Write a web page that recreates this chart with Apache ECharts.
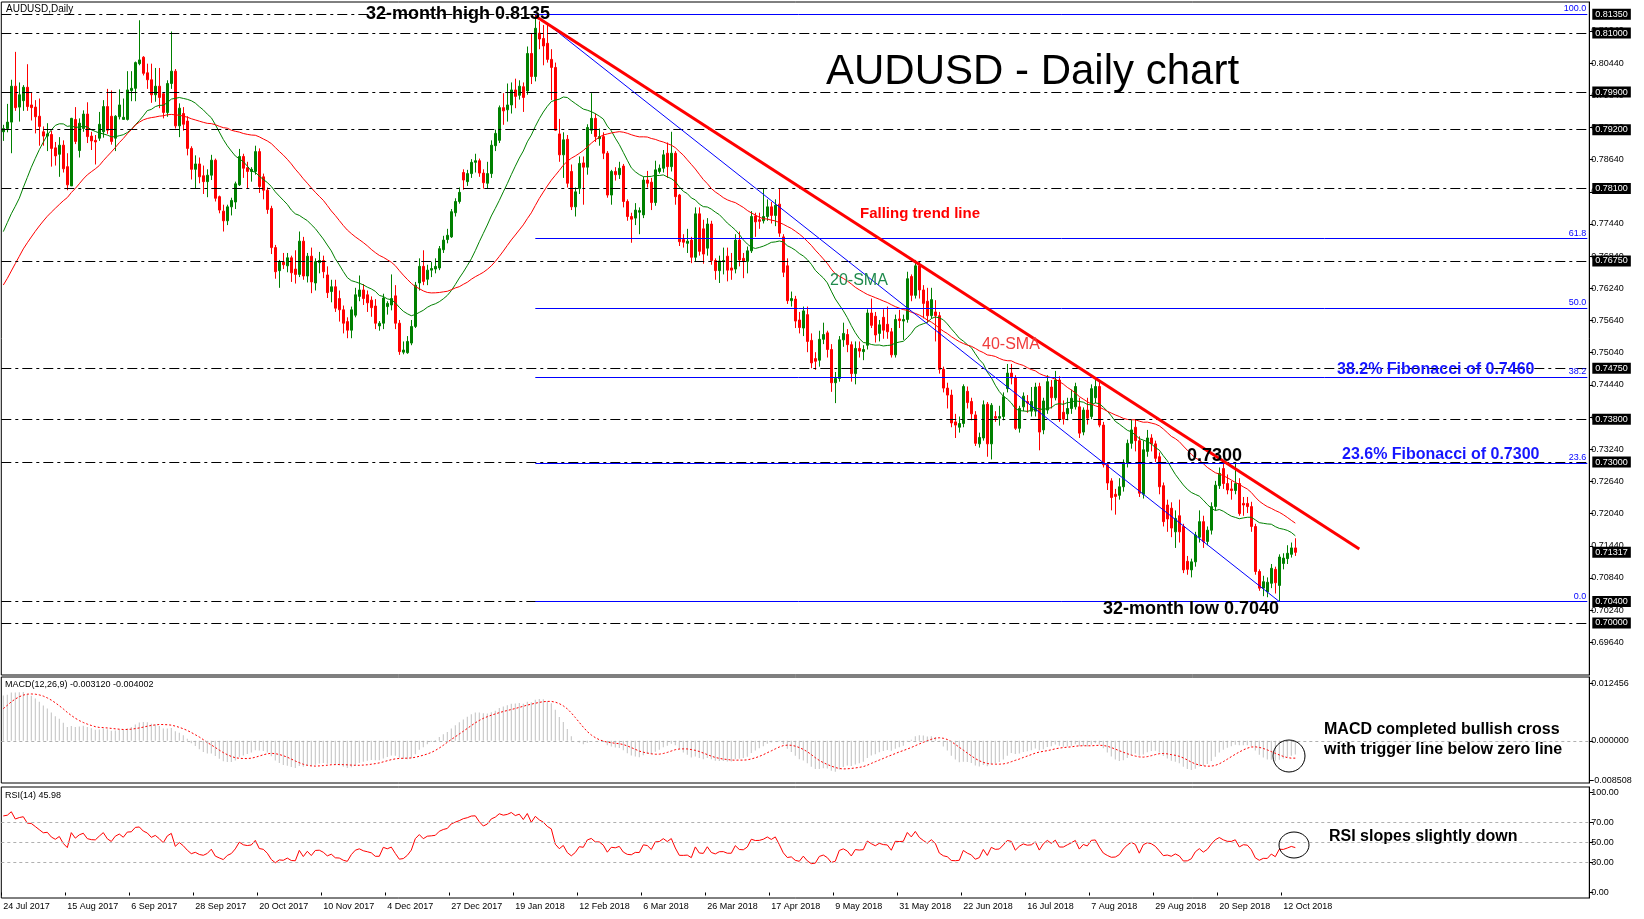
<!DOCTYPE html>
<html>
<head>
<meta charset="utf-8">
<title>AUDUSD - Daily chart</title>
<script src="https://cdn.jsdelivr.net/npm/echarts@6/dist/echarts.min.js"></script>
<style>
  html, body { margin: 0; padding: 0; background: #fff; }
  #chart { width: 1644px; height: 919px; }
</style>
</head>
<body>
<div id="chart"></div>
<script>
// closes before the first visible bar, only used to warm up the SMA / MACD / RSI
const priorClose = [
  0.7450, 0.7440, 0.7445, 0.7410, 0.7440, 0.7450, 0.7505, 0.7530, 0.7520, 0.7530,
  0.7535, 0.7560, 0.7580, 0.7580, 0.7605, 0.7570, 0.7580, 0.7570, 0.7590, 0.7580,
  0.7590, 0.7600, 0.7670, 0.7680, 0.7685, 0.7600, 0.7590, 0.7580, 0.7610, 0.7605,
  0.7630, 0.7640, 0.7700, 0.7700, 0.7830, 0.7850, 0.7910, 0.7920, 0.7960, 0.7915
];

// daily bars from 24 Jul 2017: [open, close, low, high]
const candles = [
  [0.7916,0.7922,0.7899,0.7929],[0.7922,0.7934,0.7915,0.7968],[0.7934,0.8001,0.7876,0.8013],[0.8001,0.7961,0.7955,0.8065],
  [0.7962,0.7985,0.7935,0.8008],[0.7974,0.7999,0.7955,0.8003],[0.7999,0.7963,0.7955,0.8042],[0.7966,0.7961,0.7937,0.7990],
  [0.7962,0.7944,0.7913,0.7975],[0.7945,0.7926,0.7890,0.7978],[0.7916,0.7908,0.7890,0.7926],[0.7908,0.7912,0.7880,0.7932],
  [0.7911,0.7885,0.7851,0.7918],[0.7886,0.7871,0.7853,0.7897],[0.7874,0.7891,0.7832,0.7906],[0.7891,0.7847,0.7840,0.7900],
  [0.7851,0.7817,0.7807,0.7876],[0.7815,0.7941,0.7815,0.7942],[0.7939,0.7898,0.7893,0.7962],[0.7881,0.7932,0.7868,0.7941],
  [0.7922,0.7949,0.7916,0.7956],[0.7949,0.7907,0.7895,0.7971],[0.7908,0.7899,0.7882,0.7916],[0.7900,0.7897,0.7855,0.7910],
  [0.7904,0.7930,0.7899,0.7953],[0.7916,0.7963,0.7905,0.7975],[0.7963,0.7919,0.7912,0.7996],[0.7945,0.7898,0.7892,0.7993],
  [0.7904,0.7945,0.7880,0.7947],[0.7944,0.7966,0.7939,0.7995],[0.7939,0.7943,0.7939,0.7978],[0.7939,0.7994,0.7937,0.8029],
  [0.7993,0.7997,0.7973,0.8029],[0.7997,0.8045,0.7973,0.8047],[0.8043,0.8050,0.8040,0.8124],[0.8055,0.8025,0.8021,0.8057],
  [0.8026,0.8013,0.7996,0.8043],[0.8013,0.7985,0.7970,0.8043],[0.7985,0.8001,0.7972,0.8035],[0.8001,0.7980,0.7960,0.8035],
  [0.7987,0.7952,0.7941,0.7990],[0.7952,0.8006,0.7944,0.8012],[0.8006,0.8029,0.7996,0.8103],[0.8029,0.7927,0.7922,0.8033],
  [0.7927,0.7960,0.7906,0.7969],[0.7950,0.7930,0.7918,0.7962],[0.7936,0.7885,0.7872,0.7945],[0.7885,0.7846,0.7827,0.7889],
  [0.7846,0.7856,0.7810,0.7872],[0.7856,0.7832,0.7820,0.7868],[0.7834,0.7823,0.7800,0.7853],[0.7823,0.7835,0.7794,0.7846],
  [0.7835,0.7863,0.7826,0.7873],[0.7863,0.7792,0.7786,0.7866],[0.7795,0.7770,0.7764,0.7797],[0.7768,0.7750,0.7730,0.7780],
  [0.7750,0.7776,0.7742,0.7780],[0.7776,0.7788,0.7760,0.7793],[0.7785,0.7819,0.7772,0.7823],[0.7817,0.7870,0.7815,0.7884],
  [0.7870,0.7848,0.7830,0.7875],[0.7849,0.7842,0.7810,0.7860],[0.7842,0.7846,0.7823,0.7850],[0.7842,0.7879,0.7836,0.7890],
  [0.7879,0.7814,0.7802,0.7885],[0.7832,0.7807,0.7790,0.7838],[0.7807,0.7771,0.7763,0.7812],[0.7773,0.7700,0.7688,0.7778],
  [0.7700,0.7655,0.7642,0.7705],[0.7657,0.7673,0.7625,0.7677],[0.7673,0.7668,0.7660,0.7690],[0.7666,0.7681,0.7654,0.7690],
  [0.7681,0.7653,0.7636,0.7685],[0.7660,0.7650,0.7633,0.7695],[0.7650,0.7712,0.7645,0.7730],[0.7712,0.7647,0.7640,0.7720],
  [0.7647,0.7684,0.7635,0.7690],[0.7684,0.7636,0.7615,0.7700],[0.7634,0.7674,0.7620,0.7680],[0.7672,0.7676,0.7652,0.7692],
  [0.7676,0.7655,0.7643,0.7685],[0.7649,0.7616,0.7606,0.7665],[0.7618,0.7627,0.7598,0.7640],[0.7627,0.7587,0.7580,0.7640],
  [0.7605,0.7584,0.7562,0.7620],[0.7584,0.7559,0.7540,0.7592],[0.7562,0.7546,0.7531,0.7570],[0.7546,0.7584,0.7531,0.7590],
  [0.7574,0.7612,0.7570,0.7625],[0.7609,0.7621,0.7600,0.7648],[0.7621,0.7605,0.7593,0.7632],[0.7612,0.7597,0.7580,0.7620],
  [0.7602,0.7588,0.7571,0.7609],[0.7591,0.7559,0.7548,0.7604],[0.7554,0.7559,0.7545,0.7563],[0.7559,0.7606,0.7548,0.7614],
  [0.7590,0.7596,0.7575,0.7600],[0.7593,0.7605,0.7583,0.7650],[0.7610,0.7559,0.7548,0.7630],[0.7559,0.7506,0.7500,0.7565],
  [0.7505,0.7509,0.7501,0.7525],[0.7504,0.7525,0.7502,0.7535],[0.7522,0.7553,0.7518,0.7565],[0.7553,0.7630,0.7550,0.7636],
  [0.7634,0.7665,0.7620,0.7680],[0.7665,0.7637,0.7630,0.7695],[0.7641,0.7658,0.7630,0.7668],[0.7658,0.7661,0.7645,0.7673],
  [0.7660,0.7665,0.7652,0.7680],[0.7662,0.7698,0.7658,0.7703],[0.7696,0.7714,0.7690,0.7722],[0.7715,0.7723,0.7708,0.7735],
  [0.7720,0.7767,0.7718,0.7772],[0.7765,0.7786,0.7758,0.7792],[0.7786,0.7803,0.7782,0.7812],[0.7840,0.7826,0.7808,0.7846],
  [0.7823,0.7838,0.7815,0.7845],[0.7838,0.7859,0.7830,0.7865],[0.7859,0.7862,0.7840,0.7875],[0.7862,0.7839,0.7832,0.7866],
  [0.7839,0.7821,0.7810,0.7846],[0.7820,0.7838,0.7811,0.7860],[0.7838,0.7891,0.7830,0.7900],[0.7890,0.7913,0.7880,0.7920],
  [0.7900,0.7961,0.7895,0.7965],[0.7961,0.7955,0.7929,0.7988],[0.7957,0.7966,0.7935,0.8006],[0.7966,0.7994,0.7950,0.8008],
  [0.7994,0.7982,0.7960,0.8015],[0.7984,0.8001,0.7976,0.8012],[0.8000,0.7980,0.7953,0.8008],[0.7992,0.8062,0.7985,0.8075],
  [0.8062,0.8019,0.8005,0.8100],[0.8019,0.8109,0.8010,0.8135],[0.8100,0.8089,0.8070,0.8122],[0.8090,0.8076,0.8040,0.8115],
  [0.8081,0.8051,0.8045,0.8118],[0.8051,0.8036,0.7975,0.8070],[0.8036,0.7919,0.7918,0.8045],[0.7912,0.7873,0.7860,0.7940],
  [0.7873,0.7901,0.7830,0.7915],[0.7902,0.7820,0.7812,0.7910],[0.7842,0.7776,0.7770,0.7855],[0.7776,0.7804,0.7758,0.7812],
  [0.7810,0.7857,0.7800,0.7870],[0.7858,0.7850,0.7780,0.7870],[0.7850,0.7924,0.7836,0.7930],[0.7919,0.7941,0.7912,0.7988],
  [0.7941,0.7907,0.7897,0.7950],[0.7903,0.7907,0.7890,0.7922],[0.7907,0.7876,0.7865,0.7915],[0.7876,0.7798,0.7793,0.7880],
  [0.7798,0.7842,0.7780,0.7845],[0.7842,0.7836,0.7825,0.7850],[0.7836,0.7848,0.7828,0.7860],[0.7852,0.7786,0.7775,0.7856],
  [0.7786,0.7758,0.7750,0.7790],[0.7758,0.7753,0.7709,0.7765],[0.7755,0.7770,0.7742,0.7783],[0.7766,0.7769,0.7725,0.7775],
  [0.7761,0.7826,0.7755,0.7832],[0.7826,0.7820,0.7812,0.7843],[0.7822,0.7784,0.7770,0.7830],[0.7784,0.7845,0.7778,0.7862],
  [0.7842,0.7848,0.7838,0.7855],[0.7848,0.7873,0.7840,0.7882],[0.7876,0.7851,0.7830,0.7896],[0.7851,0.7876,0.7842,0.7916],
  [0.7876,0.7795,0.7780,0.7880],[0.7798,0.7711,0.7703,0.7800],[0.7715,0.7710,0.7700,0.7725],[0.7708,0.7712,0.7690,0.7735],
  [0.7714,0.7682,0.7671,0.7720],[0.7682,0.7763,0.7675,0.7775],[0.7763,0.7693,0.7685,0.7775],[0.7735,0.7688,0.7670,0.7752],
  [0.7699,0.7744,0.7685,0.7755],[0.7744,0.7676,0.7668,0.7750],[0.7676,0.7657,0.7640,0.7680],[0.7657,0.7675,0.7634,0.7685],
  [0.7674,0.7676,0.7650,0.7700],[0.7684,0.7658,0.7637,0.7700],[0.7662,0.7658,0.7640,0.7690],[0.7660,0.7714,0.7652,0.7725],
  [0.7714,0.7677,0.7665,0.7730],[0.7680,0.7674,0.7643,0.7690],[0.7674,0.7694,0.7652,0.7702],[0.7694,0.7758,0.7690,0.7768],
  [0.7759,0.7748,0.7720,0.7765],[0.7752,0.7749,0.7735,0.7765],[0.7750,0.7758,0.7745,0.7810],[0.7758,0.7776,0.7750,0.7790],
  [0.7776,0.7760,0.7745,0.7785],[0.7760,0.7779,0.7740,0.7790],[0.7781,0.7727,0.7720,0.7810],[0.7720,0.7654,0.7645,0.7725],
  [0.7666,0.7601,0.7595,0.7680],[0.7601,0.7605,0.7590,0.7618],[0.7604,0.7563,0.7550,0.7610],[0.7565,0.7551,0.7540,0.7580],
  [0.7550,0.7582,0.7535,0.7590],[0.7575,0.7525,0.7505,0.7590],[0.7527,0.7485,0.7475,0.7540],[0.7493,0.7488,0.7472,0.7505],
  [0.7490,0.7529,0.7478,0.7545],[0.7529,0.7538,0.7520,0.7560],[0.7541,0.7510,0.7495,0.7545],[0.7510,0.7448,0.7431,0.7520],
  [0.7448,0.7456,0.7410,0.7468],[0.7456,0.7528,0.7450,0.7535],[0.7528,0.7540,0.7515,0.7560],[0.7538,0.7519,0.7505,0.7548],
  [0.7519,0.7465,0.7450,0.7525],[0.7465,0.7512,0.7445,0.7525],[0.7512,0.7507,0.7495,0.7525],[0.7506,0.7510,0.7490,0.7518],
  [0.7518,0.7578,0.7510,0.7585],[0.7578,0.7555,0.7550,0.7605],[0.7572,0.7537,0.7523,0.7580],[0.7540,0.7556,0.7525,0.7565],
  [0.7570,0.7546,0.7530,0.7585],[0.7557,0.7543,0.7530,0.7590],[0.7543,0.7500,0.7495,0.7550],[0.7500,0.7566,0.7495,0.7575],
  [0.7567,0.7564,0.7550,0.7584],[0.7563,0.7566,0.7528,0.7575],[0.7566,0.7642,0.7560,0.7655],[0.7646,0.7611,0.7600,0.7650],
  [0.7611,0.7666,0.7605,0.7677],[0.7666,0.7621,0.7605,0.7675],[0.7621,0.7596,0.7568,0.7630],[0.7600,0.7573,0.7560,0.7625],
  [0.7573,0.7603,0.7568,0.7625],[0.7580,0.7573,0.7525,0.7602],[0.7573,0.7473,0.7465,0.7580],[0.7473,0.7438,0.7430,0.7478],
  [0.7438,0.7425,0.7400,0.7448],[0.7425,0.7373,0.7365,0.7435],[0.7375,0.7369,0.7345,0.7390],[0.7365,0.7372,0.7355,0.7385],
  [0.7372,0.7441,0.7365,0.7445],[0.7432,0.7411,0.7400,0.7441],[0.7413,0.7390,0.7378,0.7420],[0.7388,0.7335,0.7330,0.7395],
  [0.7334,0.7346,0.7327,0.7355],[0.7345,0.7407,0.7340,0.7415],[0.7408,0.7334,0.7310,0.7412],[0.7334,0.7406,0.7305,0.7410],
  [0.7385,0.7382,0.7375,0.7395],[0.7382,0.7385,0.7368,0.7405],[0.7385,0.7422,0.7378,0.7430],[0.7437,0.7466,0.7430,0.7483],
  [0.7466,0.7457,0.7445,0.7483],[0.7457,0.7363,0.7360,0.7462],[0.7363,0.7400,0.7355,0.7405],[0.7403,0.7423,0.7395,0.7430],
  [0.7413,0.7410,0.7392,0.7425],[0.7395,0.7413,0.7385,0.7440],[0.7395,0.7440,0.7385,0.7448],[0.7441,0.7356,0.7322,0.7448],
  [0.7360,0.7414,0.7352,0.7420],[0.7397,0.7450,0.7390,0.7462],[0.7440,0.7420,0.7400,0.7453],[0.7420,0.7453,0.7415,0.7470],
  [0.7453,0.7380,0.7375,0.7460],[0.7393,0.7380,0.7370,0.7415],[0.7390,0.7400,0.7378,0.7420],[0.7400,0.7419,0.7390,0.7435],
  [0.7403,0.7441,0.7398,0.7448],[0.7403,0.7354,0.7345,0.7420],[0.7356,0.7397,0.7350,0.7402],[0.7397,0.7382,0.7370,0.7420],
  [0.7385,0.7437,0.7380,0.7445],[0.7420,0.7441,0.7410,0.7453],[0.7441,0.7369,0.7365,0.7450],[0.7369,0.7295,0.7290,0.7375],
  [0.7295,0.7261,0.7248,0.7300],[0.7265,0.7234,0.7210,0.7270],[0.7240,0.7236,0.7202,0.7250],[0.7238,0.7254,0.7230,0.7270],
  [0.7254,0.7299,0.7245,0.7305],[0.7298,0.7335,0.7290,0.7342],[0.7335,0.7360,0.7325,0.7380],[0.7365,0.7340,0.7320,0.7380],
  [0.7340,0.7242,0.7235,0.7348],[0.7240,0.7323,0.7232,0.7340],[0.7320,0.7345,0.7310,0.7360],[0.7345,0.7334,0.7320,0.7352],
  [0.7334,0.7307,0.7300,0.7340],[0.7310,0.7254,0.7240,0.7318],[0.7256,0.7189,0.7180,0.7262],[0.7220,0.7194,0.7170,0.7230],
  [0.7214,0.7177,0.7160,0.7225],[0.7170,0.7195,0.7140,0.7210],[0.7200,0.7170,0.7150,0.7230],[0.7180,0.7099,0.7093,0.7185],
  [0.7115,0.7100,0.7090,0.7125],[0.7099,0.7114,0.7085,0.7120],[0.7114,0.7164,0.7105,0.7170],[0.7160,0.7189,0.7150,0.7210],
  [0.7189,0.7152,0.7140,0.7200],[0.7152,0.7173,0.7145,0.7180],[0.7173,0.7217,0.7165,0.7225],[0.7217,0.7257,0.7210,0.7265],
  [0.7256,0.7279,0.7250,0.7290],[0.7288,0.7260,0.7250,0.7297],[0.7260,0.7248,0.7240,0.7277],[0.7250,0.7247,0.7230,0.7265],
  [0.7247,0.7260,0.7240,0.7300],[0.7260,0.7204,0.7200,0.7270],[0.7223,0.7220,0.7200,0.7235],[0.7223,0.7217,0.7205,0.7235],
  [0.7217,0.7180,0.7170,0.7226],[0.7180,0.7096,0.7090,0.7185],[0.7096,0.7065,0.7060,0.7100],[0.7065,0.7077,0.7050,0.7088],
  [0.7058,0.7076,0.7048,0.7085],[0.7074,0.7102,0.7065,0.7110],[0.7100,0.7075,0.7055,0.7105],[0.7070,0.7123,0.7040,0.7128],
  [0.7111,0.7121,0.7100,0.7130],[0.7120,0.7130,0.7110,0.7145],[0.7128,0.7140,0.7122,0.7150],[0.7140,0.71317,0.7125,0.7158]
];

const dateTicks = ['24 Jul 2017', '15 Aug 2017', '6 Sep 2017', '28 Sep 2017', '20 Oct 2017', '10 Nov 2017',
  '4 Dec 2017', '27 Dec 2017', '19 Jan 2018', '12 Feb 2018', '6 Mar 2018', '26 Mar 2018', '17 Apr 2018',
  '9 May 2018', '31 May 2018', '22 Jun 2018', '16 Jul 2018', '7 Aug 2018', '29 Aug 2018', '20 Sep 2018', '12 Oct 2018'];
const sundaySessions = ['2017-11-05', '2018-03-11', '2018-03-25'];   // broker DST shifts
const closedDays = ['12-25', '01-01'];
const totalSlots = 397;   // bars + empty space on the right

const levelLines = [0.8135, 0.8100, 0.7990, 0.7920, 0.7810, 0.7675, 0.7475, 0.7380, 0.7300, 0.7040, 0.7000];
const lastPrice = 0.71317;
const priceTicks = [0.6964, 0.7024, 0.7084, 0.7144, 0.7204, 0.7264, 0.7324, 0.7384, 0.7444, 0.7504,
  0.7564, 0.7624, 0.7684, 0.7744, 0.7804, 0.7864, 0.7924, 0.7984, 0.8044, 0.8104];
const fibHigh = 0.8135, fibLow = 0.7040, fibStart = 133;
const fibLevels = [100, 61.8, 50, 38.2, 23.6, 0];
const trendLine = [[133, 0.8132], [339, 0.7138]];
const fibDiagonal = [[133, 0.8135], [319, 0.7040]];
const macdTicks = [0.012456, 0, -0.008508];
const rsiTicks = [0, 30, 50, 70, 100];
const rsiLevels = [30, 50, 70];

// ---- categories (trading days) ----
const MON = ['Jan','Feb','Mar','Apr','May','Jun','Jul','Aug','Sep','Oct','Nov','Dec'];
const dates = [];
let day = new Date(Date.UTC(2017, 6, 24));
while (dates.length < totalSlots) {
  const iso = day.toISOString().slice(0, 10);
  const wd = day.getUTCDay();
  const open = (wd !== 0 && wd !== 6 && closedDays.indexOf(iso.slice(5)) < 0) || sundaySessions.indexOf(iso) >= 0;
  if (open) dates.push(day.getUTCDate() + ' ' + MON[day.getUTCMonth()] + ' ' + day.getUTCFullYear());
  day.setUTCDate(day.getUTCDate() + 1);
}
const showDate = (i) => i < candles.length && dateTicks.indexOf(dates[i]) >= 0;

// ---- indicators ----
const P = priorClose.length;
const allClose = priorClose.concat(candles.map(c => c[1]));
function sma(n) {
  return candles.map((c, i) => {
    let s = 0;
    for (let k = i + P - n + 1; k <= i + P; k++) s += allClose[k];
    return +(s / n).toFixed(5);
  });
}
function ema(src, n) {
  const a = 2 / (n + 1), out = [];
  src.forEach((v, i) => out.push(i === 0 ? v : a * v + (1 - a) * out[i - 1]));
  return out;
}
const e12 = ema(allClose, 12), e26 = ema(allClose, 26);
const macdAll = allClose.map((v, i) => e12[i] - e26[i]);
const signalAll = macdAll.map((v, i) => {
  if (i < 8) return v;
  let s = 0;
  for (let k = i - 8; k <= i; k++) s += macdAll[k];
  return s / 9;
});
const macd = macdAll.slice(P).map(v => +v.toFixed(6));
const signal = signalAll.slice(P).map(v => +v.toFixed(6));

const rsiAll = [];
let ag = 0, al = 0;
for (let i = 1; i < allClose.length; i++) {
  const d = allClose[i] - allClose[i - 1];
  const g = Math.max(d, 0), l = Math.max(-d, 0);
  if (i <= 14) { ag += g / 14; al += l / 14; }
  else { ag = (ag * 13 + g) / 14; al = (al * 13 + l) / 14; }
  rsiAll[i] = al === 0 ? 100 : 100 - 100 / (1 + ag / al);
}
const rsi = rsiAll.slice(P).map(v => +v.toFixed(2));

const sma20 = sma(20), sma40 = sma(40);

// ---- chart ----
const FONT = 'Liberation Sans';
const chart = echarts.init(document.getElementById('chart'), null, { renderer: 'canvas' });

const gridBase = { left: 1.3, width: 1588, show: true, borderColor: '#000', borderWidth: 1, backgroundColor: 'transparent' };
const xBase = (gi, showLabels) => ({
  type: 'category', gridIndex: gi, data: dates, boundaryGap: true,
  axisLine: { show: false },
  axisTick: { show: showLabels, interval: (i) => showDate(i), length: 3, lineStyle: { color: '#000' } },
  axisLabel: {
    show: showLabels, interval: (i) => showDate(i), align: 'left', margin: 4,
    fontSize: 9, fontFamily: FONT, color: '#000'
  },
  splitLine: { show: false }
});
const yBase = (gi, min, max, ticks, digits) => ({
  type: 'value', gridIndex: gi, position: 'right', min: min, max: max,
  splitLine: { show: false },
  axisLine: { show: true, lineStyle: { color: '#000' } },
  axisTick: { show: true, customValues: ticks, length: 4, lineStyle: { color: '#000' } },
  axisLabel: {
    customValues: ticks, formatter: v => v.toFixed(digits), margin: 2,
    fontSize: 9, fontFamily: FONT, color: '#000'
  }
});

const boxLabel = {
  show: true, position: 'end', distance: 3, formatter: p => (+p.value).toFixed(5),
  backgroundColor: '#000', color: '#fff', fontSize: 9, fontFamily: FONT,
  padding: [1, 3, 0, 3], lineHeight: 10, opacity: 1
};

const levelMarks = levelLines.map(v => ({
  yAxis: v,
  lineStyle: { color: '#000', width: 1, type: [10, 4, 3, 4] },
  label: boxLabel
}));
// current bid: label only, the line itself is not drawn
levelMarks.push({ yAxis: lastPrice, lineStyle: { color: 'rgba(0,0,0,0)', width: 1 }, label: boxLabel });

const fibMarks = fibLevels.map(lv => {
  const price = fibLow + (fibHigh - fibLow) * lv / 100;
  return [
    { coord: [fibStart, price], lineStyle: { color: '#0000ff', width: 1, type: 'solid' },
      label: { show: true, position: 'insideEndTop', formatter: lv.toFixed(1), color: '#0000ff',
               fontSize: 9, fontFamily: FONT, distance: 1 } },
    { coord: [totalSlots - 1, price] }
  ];
});
fibMarks.push([
  { coord: fibDiagonal[0], lineStyle: { color: '#0000ff', width: 1, type: 'solid' }, label: { show: false } },
  { coord: fibDiagonal[1] }
]);
fibMarks.push([
  { coord: trendLine[0], lineStyle: { color: '#ff0000', width: 3, type: 'solid' }, label: { show: false } },
  { coord: trendLine[1] }
]);

const txt = (x, y, text, font, fill, extra) => Object.assign({
  type: 'text', x: x, y: y, z: 100, silent: true,
  style: Object.assign({ text: text, font: font, fill: fill, textAlign: 'left', textVerticalAlign: 'middle' }, extra || {})
});
const shadow = { shadowColor: 'rgba(0,0,0,0.35)', shadowBlur: 2, shadowOffsetX: 1, shadowOffsetY: 1 };

const option = {
  animation: false,
  backgroundColor: '#fff',
  grid: [
    Object.assign({ top: 2, height: 673 }, gridBase),
    Object.assign({ top: 677, height: 106 }, gridBase),
    Object.assign({ top: 787, height: 111 }, gridBase)
  ],
  xAxis: [xBase(0, false), xBase(1, false), xBase(2, true)],
  yAxis: [
    yBase(0, 0.69030, 0.81580, priceTicks, 5),
    yBase(1, -0.00913, 0.01382, macdTicks, 6),
    yBase(2, -5.5, 105.6, rsiTicks, 2)
  ],
  series: [
    {
      type: 'candlestick', name: 'AUDUSD', xAxisIndex: 0, yAxisIndex: 0, data: candles,
      barWidth: 2,
      itemStyle: { color: '#008000', color0: '#ff0000', borderColor: '#008000', borderColor0: '#ff0000', borderWidth: 1 },
      markLine: { symbol: ['none', 'none'], silent: true, animation: false, precision: 5, data: levelMarks }
    },
    {
      type: 'line', name: '20-SMA', xAxisIndex: 0, yAxisIndex: 0, data: sma20,
      showSymbol: false, lineStyle: { color: '#008000', width: 1 }, z: 3,
      markLine: { symbol: ['none', 'none'], silent: true, animation: false, precision: 5, data: fibMarks }
    },
    {
      type: 'line', name: '40-SMA', xAxisIndex: 0, yAxisIndex: 0, data: sma40,
      showSymbol: false, lineStyle: { color: '#ff0000', width: 1 }, z: 3
    },
    {
      type: 'bar', name: 'MACD', xAxisIndex: 1, yAxisIndex: 1, data: macd,
      barWidth: 1, itemStyle: { color: '#c0c0c0' },
      markLine: {
        symbol: ['none', 'none'], silent: true, animation: false,
        data: [{ yAxis: 0, lineStyle: { color: '#b0b0b0', type: [3, 3], width: 1 }, label: { show: false } }]
      }
    },
    {
      type: 'line', name: 'Signal', xAxisIndex: 1, yAxisIndex: 1, data: signal,
      showSymbol: false, lineStyle: { color: '#ff0000', width: 1, type: [2, 2] }
    },
    {
      type: 'line', name: 'RSI', xAxisIndex: 2, yAxisIndex: 2, data: rsi,
      showSymbol: false, lineStyle: { color: '#ff0000', width: 1 },
      markLine: {
        symbol: ['none', 'none'], silent: true, animation: false,
        data: rsiLevels.map(v => ({ yAxis: v, lineStyle: { color: '#b0b0b0', type: [3, 3], width: 1 }, label: { show: false } }))
      }
    }
  ],
  graphic: [
    txt(6, 9, 'AUDUSD,Daily', '10px "' + FONT + '"', '#000'),
    txt(366, 14, '32-month high 0.8135', 'bold 18px "' + FONT + '"', '#000', shadow),
    txt(826, 72, 'AUDUSD - Daily chart', '42px "' + FONT + '"', '#000'),
    txt(860, 214, 'Falling trend line', 'bold 15px "' + FONT + '"', '#ff0000', shadow),
    txt(830, 281, '20-SMA', '16px "' + FONT + '"', '#1f8a4c', shadow),
    txt(982, 345, '40-SMA', '16px "' + FONT + '"', '#f03c3c', shadow),
    txt(1337, 370, '38.2% Fibonacci of 0.7460', 'bold 16px "' + FONT + '"', '#1515ff', shadow),
    txt(1342, 455, '23.6% Fibonacci of 0.7300', 'bold 16px "' + FONT + '"', '#1515ff', shadow),
    txt(1187, 456, '0.7300', 'bold 18px "' + FONT + '"', '#000', shadow),
    txt(1103, 609, '32-month low 0.7040', 'bold 18px "' + FONT + '"', '#000', shadow),
    txt(5, 685, 'MACD(12,26,9) -0.003120 -0.004002', '9px "' + FONT + '"', '#000'),
    txt(5, 796, 'RSI(14) 45.98', '9px "' + FONT + '"', '#000'),
    txt(1324, 730, 'MACD completed bullish cross', 'bold 16px "' + FONT + '"', '#000', shadow),
    txt(1324, 750, 'with trigger line below zero line', 'bold 16px "' + FONT + '"', '#000', shadow),
    txt(1329, 837, 'RSI slopes slightly down', 'bold 16px "' + FONT + '"', '#000', shadow),
    { type: 'ellipse', z: 100, silent: true, shape: { cx: 1289, cy: 756, rx: 16, ry: 16 },
      style: { fill: 'none', stroke: '#000', lineWidth: 1 } },
    { type: 'ellipse', z: 100, silent: true, shape: { cx: 1294, cy: 845, rx: 15, ry: 13 },
      style: { fill: 'none', stroke: '#000', lineWidth: 1 } }
  ]
};

chart.setOption(option);
</script>
</body>
</html>
